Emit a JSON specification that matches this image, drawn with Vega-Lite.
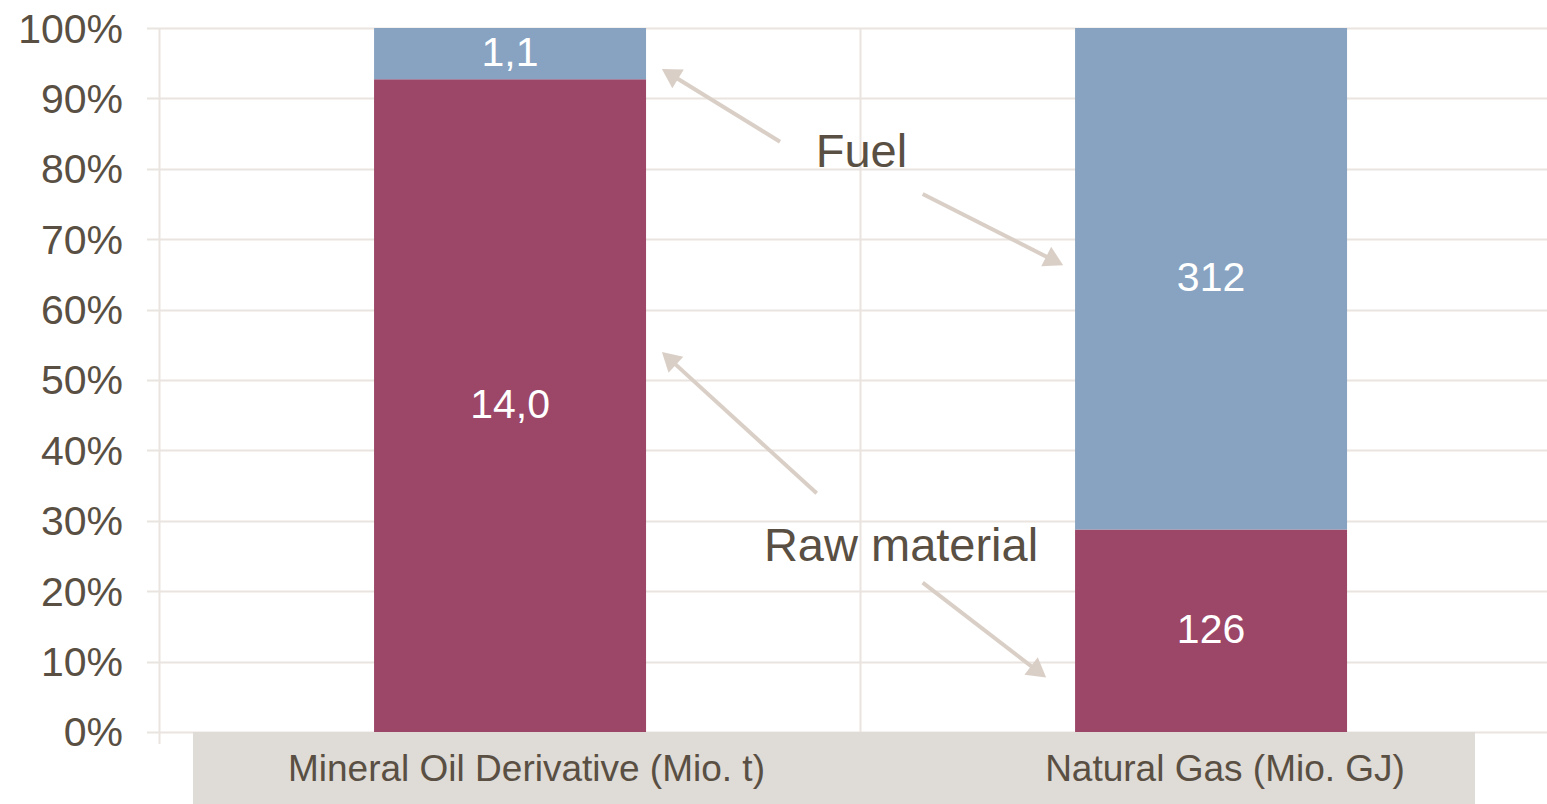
{
  "$schema": "https://vega.github.io/schema/vega-lite/v6.json",
  "width": 1388,
  "height": 776,
  "autosize": {"type": "none"},
  "padding": {"left": 159.5, "top": 28, "right": 0, "bottom": 0},
  "background": "white",
  "config": {"view": {"stroke": null}, "font": "Liberation Sans"},
  "datasets": {
    "bars": [
      {"category": "Mineral Oil Derivative (Mio. t)", "series": "Raw material", "value": 14.0, "label": "14,0"},
      {"category": "Mineral Oil Derivative (Mio. t)", "series": "Fuel", "value": 1.1, "label": "1,1"},
      {"category": "Natural Gas (Mio. GJ)", "series": "Raw material", "value": 126, "label": "126"},
      {"category": "Natural Gas (Mio. GJ)", "series": "Fuel", "value": 312, "label": "312"}
    ],
    "xlabels": [
      {"text": "Mineral Oil Derivative (Mio. t)", "x": 0.5235, "y": -0.054},
      {"text": "Natural Gas (Mio. GJ)", "x": 1.52, "y": -0.054}
    ],
    "box": [{"x": 0.0478, "x2": 1.8766, "y": -0.1023, "y2": 0}],
    "vlines": [{"x": 0, "y": -0.017, "y2": 1}, {"x": 1, "y": 0, "y2": 1}],
    "arrows": [
      {"target": "Fuel / Mineral Oil", "x": 0.8852, "y": 0.8385, "x2": 0.7282, "y2": 0.9347, "angle": 301.6},
      {"target": "Fuel / Natural Gas", "x": 1.0887, "y": 0.7642, "x2": 1.2770, "y2": 0.6692, "angle": 116.9},
      {"target": "Raw material / Mineral Oil", "x": 0.9375, "y": 0.3391, "x2": 0.7267, "y2": 0.5307, "angle": 312.4},
      {"target": "Raw material / Natural Gas", "x": 1.0887, "y": 0.2121, "x2": 1.2541, "y2": 0.0855, "angle": 127.6}
    ],
    "notes": [
      {"text": "Fuel", "x": 1.0014, "y": 0.803},
      {"text": "Raw material", "x": 1.0578, "y": 0.2429}
    ]
  },
  "layer": [
    {
      "data": {"name": "bars"},
      "transform": [
        {"stack": "value", "groupby": ["category"], "offset": "normalize", "sort": [{"field": "series", "order": "descending"}], "as": ["y0", "y1"]},
        {"calculate": "(datum.y0 + datum.y1) / 2", "as": "ymid"}
      ],
      "encoding": {
        "x": {
          "field": "category", "type": "nominal", "sort": null,
          "scale": {"paddingInner": 0.612, "paddingOuter": 0.296, "align": 0.517},
          "axis": null
        }
      },
      "layer": [
        {
          "mark": {"type": "bar"},
          "encoding": {
            "y": {
              "field": "y0", "type": "quantitative",
              "scale": {"domain": [-0.1023, 1], "nice": false, "zero": false},
              "axis": {
                "title": null, "values": [0, 0.1, 0.2, 0.3, 0.4, 0.5, 0.6, 0.7, 0.8, 0.9, 1],
                "format": ".0%", "domain": false, "grid": true,
                "gridColor": "#e9e4df", "gridWidth": 2,
                "ticks": true, "tickColor": "#e9e4df", "tickSize": 13, "tickWidth": 2,
                "labelFontSize": 41, "labelColor": "#594f43", "labelPadding": 24, "labelOffset": 2,
                "labelFont": "Liberation Sans"
              }
            },
            "y2": {"field": "y1"},
            "color": {
              "field": "series", "type": "nominal",
              "scale": {"domain": ["Raw material", "Fuel"], "range": ["#9c4668", "#87a3c1"]},
              "legend": null
            }
          }
        },
        {
          "mark": {"type": "text", "color": "white", "fontSize": 41, "baseline": "middle", "align": "center"},
          "encoding": {
            "y": {"field": "ymid", "type": "quantitative", "scale": {"domain": [-0.1023, 1], "nice": false, "zero": false}, "axis": {"title": null}},
            "text": {"field": "label"}
          }
        }
      ]
    },
    {
      "layer": [
        {
          "data": {"name": "box"},
          "mark": {"type": "rect", "color": "#dfdbd6"},
          "encoding": {
            "x": {"field": "x", "type": "quantitative", "scale": {"domain": [0, 1.98002], "nice": false, "zero": false}, "axis": null},
            "x2": {"field": "x2"},
            "y": {"field": "y", "type": "quantitative", "scale": {"domain": [-0.1023, 1], "nice": false, "zero": false}, "axis": {"title": null}},
            "y2": {"field": "y2"}
          }
        },
        {
          "data": {"name": "vlines"},
          "mark": {"type": "rule", "color": "#e9e4df", "strokeWidth": 2},
          "encoding": {
            "x": {"field": "x", "type": "quantitative", "scale": {"domain": [0, 1.98002], "nice": false, "zero": false}, "axis": null},
            "y": {"field": "y", "type": "quantitative", "scale": {"domain": [-0.1023, 1], "nice": false, "zero": false}, "axis": {"title": null}},
            "y2": {"field": "y2"}
          }
        },
        {
          "data": {"name": "xlabels"},
          "mark": {"type": "text", "fontSize": 37, "color": "#594f43", "baseline": "middle", "align": "center"},
          "encoding": {
            "x": {"field": "x", "type": "quantitative", "scale": {"domain": [0, 1.98002], "nice": false, "zero": false}, "axis": null},
            "y": {"field": "y", "type": "quantitative", "scale": {"domain": [-0.1023, 1], "nice": false, "zero": false}, "axis": {"title": null}},
            "text": {"field": "text"}
          }
        },
        {
          "data": {"name": "arrows"},
          "mark": {"type": "rule", "color": "#dacfc6", "strokeWidth": 4},
          "encoding": {
            "x": {"field": "x", "type": "quantitative", "scale": {"domain": [0, 1.98002], "nice": false, "zero": false}, "axis": null},
            "y": {"field": "y", "type": "quantitative", "scale": {"domain": [-0.1023, 1], "nice": false, "zero": false}, "axis": {"title": null}},
            "x2": {"field": "x2"},
            "y2": {"field": "y2"}
          }
        },
        {
          "data": {"name": "arrows"},
          "mark": {"type": "point", "shape": "triangle-up", "filled": true, "color": "#dacfc6", "opacity": 1, "size": 480},
          "encoding": {
            "x": {"field": "x2", "type": "quantitative", "scale": {"domain": [0, 1.98002], "nice": false, "zero": false}, "axis": null},
            "y": {"field": "y2", "type": "quantitative", "scale": {"domain": [-0.1023, 1], "nice": false, "zero": false}, "axis": {"title": null}},
            "angle": {"field": "angle", "type": "quantitative", "scale": null}
          }
        },
        {
          "data": {"name": "notes"},
          "mark": {"type": "text", "fontSize": 47, "color": "#594f43", "baseline": "alphabetic", "align": "center"},
          "encoding": {
            "x": {"field": "x", "type": "quantitative", "scale": {"domain": [0, 1.98002], "nice": false, "zero": false}, "axis": null},
            "y": {"field": "y", "type": "quantitative", "scale": {"domain": [-0.1023, 1], "nice": false, "zero": false}, "axis": {"title": null}},
            "text": {"field": "text"}
          }
        }
      ]
    }
  ],
  "resolve": {"scale": {"x": "independent"}}
}
